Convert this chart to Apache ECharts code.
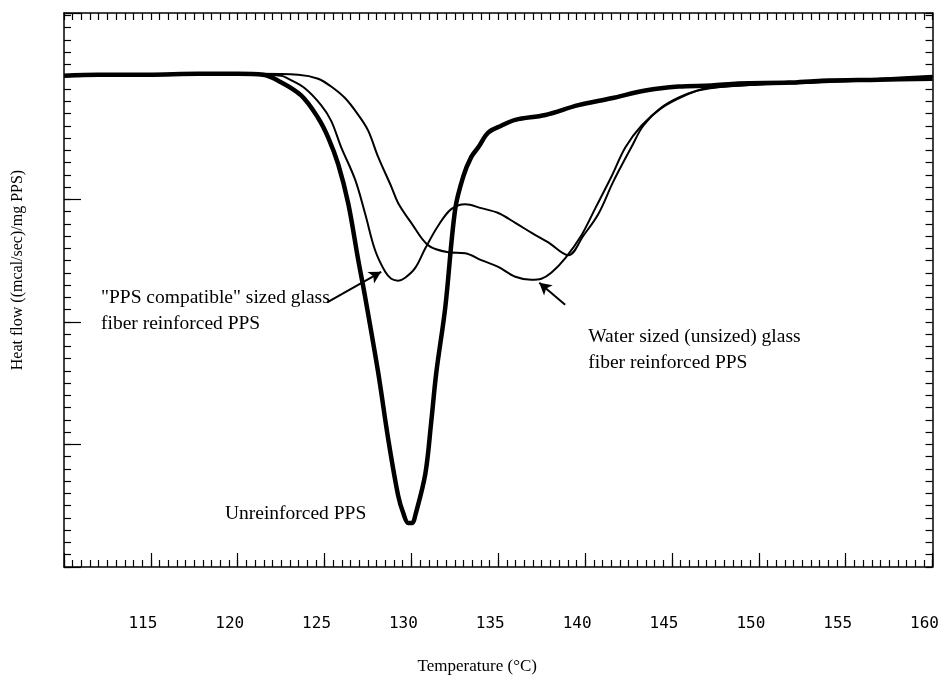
<!DOCTYPE html>
<html>
<head>
<meta charset="utf-8">
<script src="https://cdn.jsdelivr.net/npm/echarts@6/dist/echarts.min.js"></script>
<style>
html,body{margin:0;padding:0;background:#fff;}
#chart{width:942px;height:680px;}
</style>
</head>
<body>
<div id="chart"></div>
<script>
// Temperature (°C) / heat flow (arbitrary units, 1 unit = one minor tick)
const unreinforcedT = [110.0,111.96,114.84,117.72,120.02,121.46,122.33,123.65,124.63,125.21,125.78,126.36,126.94,127.34,128.09,128.66,129.24,129.53,129.82,130.05,130.22,130.80,131.14,131.43,131.95,132.52,132.98,133.44,133.85,134.42,135.17,135.98,137.71,139.61,141.51,143.47,145.37,147.27,148.82,151.71,153.61,156.89,160.0];
const unreinforcedH = [40.08,40.16,40.16,40.24,40.24,40.16,39.68,38.48,36.64,35.04,32.88,29.68,25.04,22.0,15.84,10.48,5.8,4.4,3.6,3.6,4.2,7.6,11.84,15.84,21.2,29.2,31.84,33.44,34.24,35.44,36.0,36.48,36.88,37.68,38.24,38.88,39.2,39.28,39.44,39.52,39.68,39.76,39.84];

const ppsCompatT = [110.0,113.11,116.57,120.02,122.50,122.90,123.88,124.80,125.38,125.96,126.76,127.34,127.91,128.49,128.84,129.24,129.64,130.22,130.80,131.54,132.29,133.10,134.02,135.00,135.98,136.90,137.88,139.03,139.90,140.76,141.62,142.66,143.35,144.50,145.94,147.10,149.98,153.43,156.89,160.0];
const ppsCompatH = [40.08,40.16,40.24,40.24,40.08,39.84,39.04,37.68,36.40,34.24,31.60,28.80,25.84,24.08,23.52,23.36,23.60,24.40,26.00,27.84,29.20,29.60,29.28,28.88,28.08,27.28,26.48,25.44,27.04,28.80,31.44,34.24,36.00,37.60,38.64,39.04,39.36,39.52,39.76,40.0];

const waterSizedT = [110.0,113.69,117.72,121.18,123.48,124.63,125.38,126.19,126.94,127.51,128.09,128.84,129.24,129.99,130.97,132.12,133.10,134.02,135.00,135.98,136.90,137.48,138.05,138.86,139.78,140.59,141.51,142.32,143.24,144.39,145.77,146.92,149.98,153.43,156.89,160.0];
const waterSizedH = [40.08,40.16,40.24,40.24,40.16,39.84,39.20,38.24,36.88,35.60,33.44,31.04,29.68,28.08,26.24,25.68,25.60,25.04,24.48,23.68,23.44,23.52,24.00,25.20,27.04,29.28,31.84,34.24,36.00,37.44,38.48,39.04,39.36,39.60,39.84,40.08];

const xTickLabels = ['115','120','125','130','135','140','145','150','155','160'];

// annotation texts and anchors (data units)
const annoTexts = ['"PPS compatible" sized glass\nfiber reinforced PPS', 'Water sized (unsized) glass\nfiber reinforced PPS', 'Unreinforced PPS'];
const annoT = [112.13, 140.18, 127.40];
const annoH = [23.04, 19.84, 4.3];
const arrowFromT = [125.15, 138.85];
const arrowFromH = [21.6, 21.4];
const arrowToT = [128.26, 137.36];
const arrowToH = [24.08, 23.2];

const zip = (a, b) => a.map((v, i) => [v, b[i]]);
const serif = '"Liberation Serif", "Times New Roman", serif';
const mono = '"DejaVu Sans Mono", monospace';
const black = '#000';

const chart = echarts.init(document.getElementById('chart'), null, {renderer: 'canvas'});

const option = {
  backgroundColor: '#fff',
  animation: false,
  grid: {left: 64, right: 8, top: 13, bottom: 102},
  xAxis: [
    {
      type: 'value', position: 'bottom', min: 110, max: 160, interval: 5,
      axisLine: {show: true, onZero: false, lineStyle: {color: black, width: 1.5}},
      axisTick: {show: true, inside: true, length: 14, lineStyle: {color: black, width: 1.2}},
      minorTick: {show: false},
      splitLine: {show: false},
      axisLabel: {
        show: true, margin: 49, color: black, fontFamily: mono, fontSize: 16,
        padding: [0, 16, 0, 0],
        formatter: v => xTickLabels.indexOf(String(v)) >= 0 ? String(v) : ''
      },
      name: 'Temperature (°C)', nameLocation: 'middle', nameGap: 91,
      nameTextStyle: {color: black, fontFamily: serif, fontSize: 17, padding: [0, 42, 0, 0]}
    },
    {
      type: 'value', position: 'top', min: 110, max: 160, interval: 0.5,
      axisLine: {show: true, onZero: false, lineStyle: {color: black, width: 1.5}},
      axisTick: {show: true, inside: true, length: 7, lineStyle: {color: black, width: 1.2}},
      axisLabel: {show: false}, splitLine: {show: false}
    },
    {
      type: 'value', position: 'bottom', min: 110, max: 160, interval: 0.5,
      axisLine: {show: false, onZero: false},
      axisTick: {show: true, inside: true, length: 7, lineStyle: {color: black, width: 1.2}},
      axisLabel: {show: false}, splitLine: {show: false}
    }
  ],
  yAxis: [
    {
      type: 'value', position: 'left', min: 0, max: 45.2, interval: 10,
      axisLine: {show: true, onZero: false, lineStyle: {color: black, width: 1.5}},
      axisTick: {show: true, inside: true, length: 17, lineStyle: {color: black, width: 1.2}},
      axisLabel: {show: false}, splitLine: {show: false},
      name: 'Heat flow ((mcal/sec)/mg PPS)', nameLocation: 'middle', nameGap: 38,
      nameTextStyle: {color: black, fontFamily: serif, fontSize: 16, padding: [0, 0, 0, 40]}
    },
    {
      type: 'value', position: 'right', min: 0, max: 45.2, interval: 1,
      axisLine: {show: true, onZero: false, lineStyle: {color: black, width: 1.5}},
      axisTick: {show: true, inside: true, length: 7, lineStyle: {color: black, width: 1.2}},
      axisLabel: {show: false}, splitLine: {show: false}
    },
    {
      type: 'value', position: 'left', min: 0, max: 45.2, interval: 1,
      axisLine: {show: false, onZero: false},
      axisTick: {show: true, inside: true, length: 7, lineStyle: {color: black, width: 1.2}},
      axisLabel: {show: false}, splitLine: {show: false}
    }
  ],
  series: [
    {
      name: 'Unreinforced PPS', type: 'line', xAxisIndex: 0, yAxisIndex: 0,
      data: zip(unreinforcedT, unreinforcedH), showSymbol: false, smooth: 0.35,
      lineStyle: {color: black, width: 4.5}, z: 3
    },
    {
      name: '"PPS compatible" sized glass fiber reinforced PPS', type: 'line', xAxisIndex: 0, yAxisIndex: 0,
      data: zip(ppsCompatT, ppsCompatH), showSymbol: false, smooth: 0.35,
      lineStyle: {color: black, width: 2}, z: 2,
      markLine: {
        silent: true, symbol: ['none', 'arrow'], symbolSize: [10, 12],
        lineStyle: {color: black, width: 2, type: 'solid'}, label: {show: false},
        data: arrowFromT.map((t, i) => [{coord: [t, arrowFromH[i]]}, {coord: [arrowToT[i], arrowToH[i]]}])
      }
    },
    {
      name: 'Water sized (unsized) glass fiber reinforced PPS', type: 'line', xAxisIndex: 0, yAxisIndex: 0,
      data: zip(waterSizedT, waterSizedH), showSymbol: false, smooth: 0.35,
      lineStyle: {color: black, width: 2}, z: 2
    }
  ]
};
chart.setOption(option);

// annotation text placed through the axes' scales
const aligns = [['left', 'top'], ['left', 'top'], ['right', 'middle']];
const graphics = annoTexts.map((txt, i) => {
  const p = chart.convertToPixel({xAxisIndex: 0, yAxisIndex: 0}, [annoT[i], annoH[i]]);
  return {
    type: 'text', x: p[0], y: p[1], silent: true, z: 10,
    style: {text: txt, fill: black, font: '19.5px ' + serif, align: aligns[i][0], verticalAlign: aligns[i][1], lineHeight: 26}
  };
});
chart.setOption({graphic: graphics});
</script>
</body>
</html>
